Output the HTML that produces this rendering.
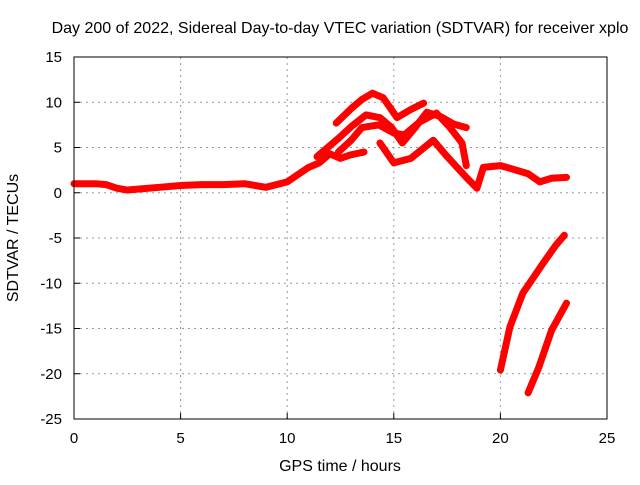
<!DOCTYPE html>
<html><head><meta charset="utf-8"><style>
body{margin:0;background:#fff}
svg text{font-family:"Liberation Sans",sans-serif;font-size:15px;fill:#000}
svg text.big{font-size:16px}
</style></head><body>
<svg id="chart" width="640" height="480">
<text class="big" x="340" y="33" text-anchor="middle">Day 200 of 2022, Sidereal Day-to-day VTEC variation (SDTVAR) for receiver xplo</text>
<text class="big" x="340" y="471" text-anchor="middle">GPS time / hours</text>
<text class="big" transform="translate(18,238) rotate(-90)" text-anchor="middle">SDTVAR / TECUs</text>
<g id="grid"></g><g id="ticks"></g><g id="series"></g>
<rect x="74" y="57" width="533" height="362" fill="none" stroke="#000" stroke-width="1"/>
</svg>
<script>
const xTicks=[0,5,10,15,20,25];
const yTicks=[15,10,5,0,-5,-10,-15,-20,-25];
const seriesBase=[[0,1],[0.5,1],[1,1],[1.5,0.9],[2,0.5],[2.5,0.3],[3,0.4],[4,0.6],[5,0.8],[6,0.9],[7,0.9],[8,1.0],[9,0.6],[10,1.2],[10.5,2],[11,2.8],[11.5,3.3],[12,4.3],[12.5,3.8],[13,4.2],[13.6,4.5]];
const seriesTop=[[12.3,7.7],[13,9.3],[13.5,10.3],[14,11.0],[14.5,10.5],[15.15,8.3],[15.8,9.2],[16.4,9.9]];
const seriesMid=[[11.4,4],[12.4,6],[13,7.3],[13.7,8.6],[14.35,8.3],[14.9,7.2],[15.4,5.5],[16,7.2],[16.55,8.9],[17.2,8.4],[17.8,7.6],[18.4,7.2]];
const seriesMid2=[[12.4,4.5],[13,5.8],[13.5,7.2],[14.3,7.5],[15,6.6],[15.5,6.4],[16.2,7.8],[17,8.8],[17.6,7.3],[18.2,5.5],[18.4,3.0]];
const seriesLow=[[14.35,5.5],[15,3.3],[15.8,3.8],[16.85,5.8],[17.5,4],[18.4,1.7],[18.9,0.5],[19.2,2.8],[20,3.0],[20.6,2.6],[21.3,2.1],[21.85,1.2],[22.4,1.6],[23.1,1.7]];
const seriesNeg1=[[20.0,-19.6],[20.45,-14.8],[21.05,-11.1],[22.0,-7.8],[22.6,-5.8],[23.0,-4.7]];
const seriesNeg2=[[21.3,-22.1],[21.8,-19.3],[22.4,-15.2],[23.1,-12.2]];
const NS="http://www.w3.org/2000/svg";
const X=h=>74+h*(533/25), Y=v=>57+(15-v)*(362/40);
const grid=document.getElementById('grid'),ticks=document.getElementById('ticks'),ser=document.getElementById('series');
function mk(tag,attrs,parent){const e=document.createElementNS(NS,tag);for(const k in attrs)e.setAttribute(k,attrs[k]);parent.appendChild(e);return e;}
xTicks.forEach(t=>{
 if(t>0&&t<25){const l=mk('line',{x1:X(t),x2:X(t),y1:57,y2:419,stroke:'#999','stroke-dasharray':'2,4'},grid);
 
 }
 const tx=mk('text',{x:X(t),y:443,'text-anchor':'middle'},ticks);tx.textContent=t;
 
 
 mk('line',{x1:X(t),x2:X(t),y1:419,y2:413,stroke:'#000'},ticks);
});
yTicks.forEach(t=>{
 if(t<15&&t>-25){const l=mk('line',{x1:74,x2:607,y1:Y(t),y2:Y(t),stroke:'#999','stroke-dasharray':'2,4'},grid);
 
 }
 const tx=mk('text',{x:62,y:Y(t)+5,'text-anchor':'end'},ticks);tx.textContent=t;
 
 
 mk('line',{x1:74,x2:80,y1:Y(t),y2:Y(t),stroke:'#000'},ticks);
});
[seriesBase,seriesTop,seriesMid,seriesMid2,seriesLow,seriesNeg1,seriesNeg2].forEach(s=>{
 const p=mk('polyline',{points:s.map(d=>X(d[0])+','+Y(d[1])).join(' '),fill:'none',stroke:'#f00','stroke-width':7,'stroke-linejoin':'round','stroke-linecap':'round'},ser);
 
 
});
</script>
</body></html>
